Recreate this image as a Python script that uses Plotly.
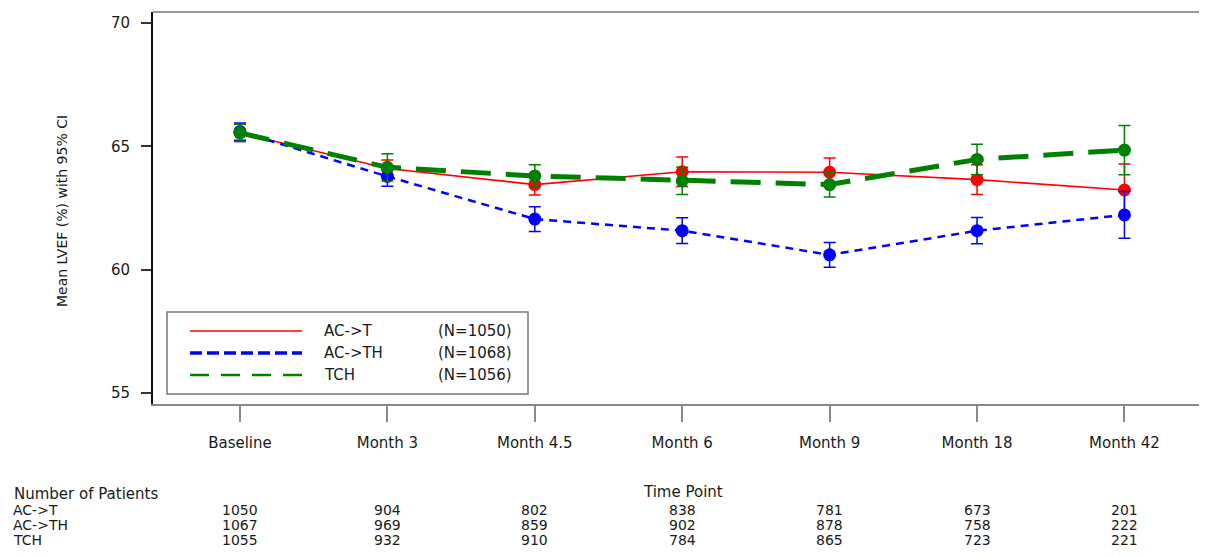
import plotly.graph_objects as go

categories = ["Baseline", "Month 3", "Month 4.5", "Month 6", "Month 9", "Month 18", "Month 42"]

act_mean = [65.55, 64.10, 63.45, 63.97, 63.95, 63.65, 63.23]
act_ci = [0.35, 0.35, 0.42, 0.60, 0.58, 0.60, 1.05]
acth_mean = [65.60, 63.78, 62.05, 61.58, 60.60, 61.58, 62.22]
acth_ci = [0.35, 0.40, 0.50, 0.52, 0.50, 0.53, 0.95]
tch_mean = [65.55, 64.15, 63.80, 63.60, 63.45, 64.47, 64.85]
tch_ci = [0.35, 0.55, 0.45, 0.55, 0.50, 0.62, 1.00]

group_names = ["AC->T", "AC->TH", "TCH"]
group_n = ["(N=1050)", "(N=1068)", "(N=1056)"]
patients = {
    "AC->T": [1050, 904, 802, 838, 781, 673, 201],
    "AC->TH": [1067, 969, 859, 902, 878, 758, 222],
    "TCH": [1055, 932, 910, 784, 865, 723, 221],
}

OFF = 8  # default page body margin
W, H = 1207 - OFF, 557 - OFF
L_WIN, R_WIN, T_WIN, B_WIN = 153, 1207, 12, 404
FONT = "DejaVu Sans"
TXT = "#1a1a1a"


def px(x):
    return (x - L_WIN) / (R_WIN - L_WIN)


def py(y):
    return (B_WIN - y) / (B_WIN - T_WIN)


xi = list(range(len(categories)))

series = [
    ("AC->T", act_mean, act_ci, "#ff0000", dict(width=1.6, dash="solid")),
    ("AC->TH", acth_mean, acth_ci, "#0000ff", dict(width=2.5, dash="8px,6px")),
    ("TCH", tch_mean, tch_ci, "#008000", dict(width=5, dash="30px,15px")),
]

fig = go.Figure()
for name, m, ci, col, ln in series:
    fig.add_trace(go.Scatter(
        x=xi, y=m, mode="lines+markers", name=name,
        line=dict(color=col, **ln),
        marker=dict(color=col, size=13, symbol="circle"),
        error_y=dict(type="data", array=ci, visible=True, color=col, thickness=1.5, width=6),
        showlegend=False,
    ))

shapes = []
annotations = []

shapes.append(dict(type="line", xref="paper", yref="paper", x0=0, x1=1, y0=1, y1=1,
                   line=dict(color="#999999", width=2)))

shapes.append(dict(type="rect", xref="paper", yref="paper",
                   x0=px(167), x1=px(528), y0=py(312), y1=py(394),
                   line=dict(color="#777777", width=1.5), fillcolor="white", layer="above"))
leg_rows = [331, 353, 375]
leg_styles = [
    ("#ff0000", 1.6, "solid"),
    ("#0000ff", 3.5, "12px,5px"),
    ("#008000", 2.5, "19px,12px"),
]
for (col, w, d), yy, nm, nn in zip(leg_styles, leg_rows, group_names, group_n):
    shapes.append(dict(type="line", xref="paper", yref="paper",
                       x0=px(190), x1=px(302), y0=py(yy), y1=py(yy),
                       line=dict(color=col, width=w, dash=d), layer="above"))
    annotations.append(dict(xref="paper", yref="paper", x=px(322), y=py(yy),
                            text=nm, showarrow=False, xanchor="left", yanchor="middle",
                            font=dict(family=FONT, size=15, color=TXT)))
    annotations.append(dict(xref="paper", yref="paper", x=px(436), y=py(yy),
                            text=nn, showarrow=False, xanchor="left", yanchor="middle",
                            font=dict(family=FONT, size=15, color=TXT)))

annotations.append(dict(xref="paper", yref="paper", x=px(62), y=py(211),
                        text="Mean LVEF (%) with 95% CI", textangle=-90, showarrow=False,
                        xanchor="center", yanchor="middle",
                        font=dict(family=FONT, size=14, color=TXT)))

annotations.append(dict(xref="paper", yref="paper", x=px(683), y=py(492),
                        text="Time Point", showarrow=False, xanchor="center", yanchor="middle",
                        font=dict(family=FONT, size=15, color=TXT)))

annotations.append(dict(xref="paper", yref="paper", x=px(12), y=py(494),
                        text="Number of Patients", showarrow=False, xanchor="left", yanchor="middle",
                        font=dict(family=FONT, size=15, color=TXT)))
row_y = [510, 525, 540]
for g, yy in zip(group_names, row_y):
    annotations.append(dict(xref="paper", yref="paper", x=px(12), y=py(yy),
                            text=g, showarrow=False, xanchor="left", yanchor="middle",
                            borderpad=0,
                            font=dict(family=FONT, size=14, color=TXT)))
    for i, v in enumerate(patients[g]):
        annotations.append(dict(xref="x", yref="paper", x=i, y=py(yy),
                                text=str(v), showarrow=False, xanchor="center", yanchor="middle",
                                borderpad=0,
                                font=dict(family=FONT, size=14, color=TXT)))

fig.update_layout(
    width=W, height=H,
    margin=dict(l=L_WIN - OFF, r=1207 - R_WIN, t=T_WIN - OFF, b=557 - B_WIN, autoexpand=False),
    paper_bgcolor="white", plot_bgcolor="white",
    shapes=shapes, annotations=annotations,
    font=dict(family=FONT, size=15, color=TXT),
)

fig.update_xaxes(
    range=[-0.59, 6.56], tickmode="array", tickvals=xi, ticktext=categories,
    showgrid=False, zeroline=False, showline=True, linecolor="#888888", linewidth=2,
    ticks="outside", ticklen=16, tickwidth=2, tickcolor="#888888",
    ticklabelstandoff=8,
    tickfont=dict(family=FONT, size=15, color=TXT),
)
fig.update_yaxes(
    range=[54.55, 70.45], tickvals=[55, 60, 65, 70],
    showgrid=False, zeroline=False, showline=True, linecolor="#111111", linewidth=2,
    ticks="outside", ticklen=10, tickwidth=2, tickcolor="#333333",
    ticklabelstandoff=8,
    tickfont=dict(family=FONT, size=15, color=TXT),
)

fig.write_html("out.html")
